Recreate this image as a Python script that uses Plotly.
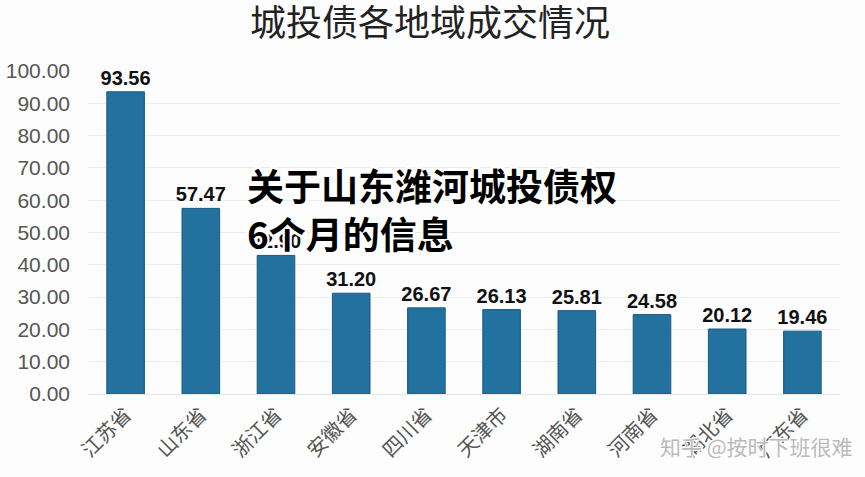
import plotly.graph_objects as go

categories = ["江苏省", "山东省", "浙江省", "安徽省", "四川省", "天津市", "湖南省", "河南省", "湖北省", "广东省"]
values = [93.56, 57.47, 42.90, 31.20, 26.67, 26.13, 25.81, 24.58, 20.12, 19.46]
y_ticks = [0, 10, 20, 30, 40, 50, 60, 70, 80, 90, 100]

fig = go.Figure()
fig.add_trace(go.Bar(
    x=categories, y=values,
    marker=dict(color="#22719f", line=dict(color="#1b5a80", width=1)),
    texttemplate="%{y:.2f}", textposition="outside", cliponaxis=False,
    constraintext="none",
    textfont=dict(family="Liberation Sans, Arial", size=20, color="#111111", weight="bold"),
    width=0.5,
))

fig.update_layout(
    width=865, height=477,
    margin=dict(l=88, r=25, t=71, b=83),
    paper_bgcolor="#fdfdfd", plot_bgcolor="#fdfdfd",
    showlegend=False,
    title=dict(text="城投债各地域成交情况", x=0.497, xanchor="center", y=0.952, yanchor="middle",
               font=dict(family="Noto Sans CJK SC", size=36, color="#222222")),
    xaxis=dict(tickangle=-45, tickfont=dict(family="Noto Sans CJK SC", size=20, color="#555555"),
               showline=True, linecolor="#e6e6e6", ticks="", automargin=False),
    yaxis=dict(range=[0, 100], tickvals=y_ticks, tickformat=".2f", ticklabelstandoff=17,
               tickfont=dict(family="Liberation Sans, Arial", size=21, color="#555555"),
               gridcolor="#ececec", zeroline=False, ticks="", automargin=False),
)

fig.add_annotation(
    xref="paper", yref="paper", x=0.209, y=0.738, xanchor="left", yanchor="top",
    text="关于山东潍河城投债权<br>6个月的信息", showarrow=False, align="left",
    font=dict(family="Noto Sans CJK SC", size=37, color="#000000", weight="bold",
              shadow="2px 2px 0 #fff, -2px -2px 0 #fff, 2px -2px 0 #fff, -2px 2px 0 #fff"),
)

fig.add_annotation(
    xref="paper", yref="paper", x=1.02, y=-0.16, xanchor="right", yanchor="middle",
    text="知乎 @按时下班很难", showarrow=False,
    font=dict(family="Noto Sans CJK SC", size=21, color="#bbbbbb",
              shadow="1px 1px 0 #fff, -1px -1px 0 #fff"),
)

fig.write_html("out.html")
